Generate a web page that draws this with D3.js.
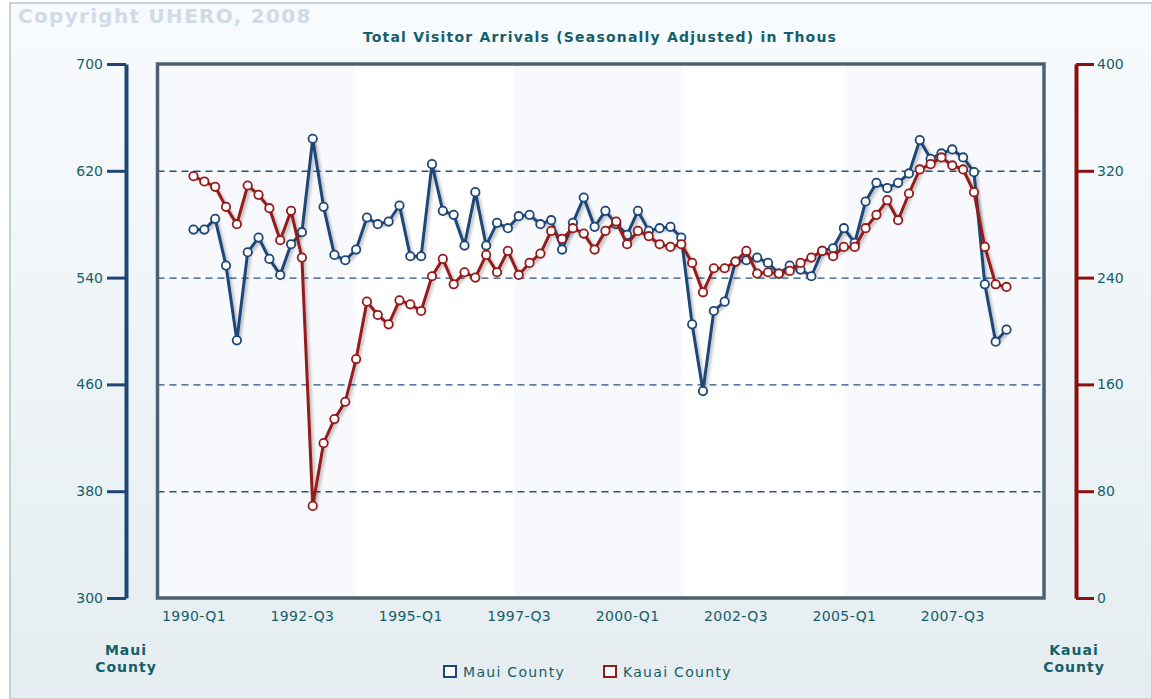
<!DOCTYPE html>
<html>
<head>
<meta charset="utf-8">
<script src="https://cdn.jsdelivr.net/npm/d3@7"></script>
<style>
  html, body { margin: 0; padding: 0; background: #fff; }
  svg { display: block; font-family: "DejaVu Sans", Verdana, sans-serif; }
</style>
</head>
<body>
<script>
/* ---------------- DATA ---------------- */
const START_YEAR = 1990;

// Maui County, thousands (left axis)
const MAUI = [
  576, 576, 584, 549, 493, 559, 570, 554, 542, 565,
  574, 644, 593, 557, 553, 561, 585, 580, 582, 594,
  556, 556, 625, 590, 587, 564, 604, 564, 581, 577,
  586, 587, 580, 583, 561, 581, 600, 578, 590, 580,
  572, 590, 575, 577, 578, 570, 505, 455, 515, 522,
  552, 553, 555, 551, 543, 549, 546, 541, 560, 562,
  577, 566, 597, 611, 607, 611, 618, 643, 629, 633,
  636, 630, 619, 535, 492, 501
];

// Kauai County, thousands (right axis)
const KAUAI = [
  316, 312, 308, 293, 280, 309, 302, 292, 268, 290,
  255,  69, 116, 134, 147, 179, 222, 212, 205, 223,
  220, 215, 241, 254, 235, 244, 240, 257, 244, 260,
  242, 251, 258, 275, 269, 277, 273, 261, 275, 282,
  265, 275, 271, 265, 263, 265, 251, 229, 247, 247,
  252, 260, 243, 244, 243, 245, 251, 255, 260, 256,
  263, 263, 277, 287, 298, 283, 303, 321, 325, 330,
  324, 321, 304, 263, 235, 233
];

const QUARTERS = MAUI.map((_, i) => `${START_YEAR + Math.floor(i / 4)}-Q${(i % 4) + 1}`);
const TICK_LABELS = ["1990-Q1", "1992-Q3", "1995-Q1", "1997-Q3", "2000-Q1", "2002-Q3", "2005-Q1", "2007-Q3"];
const LEFT_TICKS  = [300, 380, 460, 540, 620, 700];
const RIGHT_TICKS = [0, 80, 160, 240, 320, 400];
const GRID_VALUES = [380, 460, 540, 620];
const SERIES_NAMES = ["Maui County", "Kauai County"];

/* ---------------- LAYOUT ---------------- */
const W = 1152, H = 699;
const FRAME = { left: 157.5, right: 1044, top: 64, bottom: 598 };
const BLUE = "#1d4677", RED = "#951a1a", TEAL = "#135f6b";
const FONT = "DejaVu Sans, Verdana, sans-serif";

const svg = d3.select("body").append("svg").attr("width", W).attr("height", H);
const defs = svg.append("defs");

const bg = defs.append("linearGradient").attr("id", "bg").attr("x1", 0).attr("y1", 0).attr("x2", 0).attr("y2", 1);
bg.append("stop").attr("offset", "0%").attr("stop-color", "#f8fbfd");
bg.append("stop").attr("offset", "100%").attr("stop-color", "#e5edf0");

const shadow = defs.append("filter").attr("id", "shadow")
  .attr("x", "-5%").attr("y", "-5%").attr("width", "110%").attr("height", "110%");
shadow.append("feDropShadow").attr("dx", 2).attr("dy", 2).attr("stdDeviation", 1.6)
  .attr("flood-color", "#000").attr("flood-opacity", 0.28);

// outer panel
svg.append("rect").attr("x", 10).attr("y", 3).attr("width", W - 10).attr("height", H - 3)
  .attr("fill", "url(#bg)").attr("stroke", "#b9c4cb").attr("stroke-width", 1.5);

svg.append("text").attr("x", 18).attr("y", 23)
  .attr("font-size", 20).attr("font-weight", "bold").attr("fill", "#cfdbe7")
  .attr("letter-spacing", 1.3)
  .text("Copyright UHERO, 2008");

svg.append("text").attr("x", 600).attr("y", 42).attr("text-anchor", "middle")
  .attr("font-size", 14).attr("font-weight", "bold").attr("fill", TEAL)
  .attr("letter-spacing", 1.2)
  .text("Total Visitor Arrivals (Seasonally Adjusted) in Thous");

/* scales */
const x = d3.scaleLinear().domain([0, MAUI.length - 1]).range([193.5, 1006.5]);
const yL = d3.scaleLinear().domain([300, 700]).range([FRAME.bottom, FRAME.top]);
const yR = d3.scaleLinear().domain([0, 400]).range([FRAME.bottom, FRAME.top]);

/* plot area */
svg.append("rect")
  .attr("x", FRAME.left).attr("y", FRAME.top)
  .attr("width", FRAME.right - FRAME.left).attr("height", FRAME.bottom - FRAME.top)
  .attr("fill", "#ffffff");

// faint alternating bands
const BANDS = [[FRAME.left, 355], [515, 683], [845, FRAME.right]];
svg.append("g").selectAll("rect").data(BANDS).join("rect")
  .attr("x", d => d[0]).attr("y", FRAME.top)
  .attr("width", d => d[1] - d[0]).attr("height", FRAME.bottom - FRAME.top)
  .attr("fill", "#f7f9fc");

// dashed grid
svg.append("g").attr("class", "grid")
  .attr("transform", `translate(${FRAME.left},0)`)
  .call(d3.axisLeft(yL).tickValues(GRID_VALUES).tickSize(-(FRAME.right - FRAME.left)).tickFormat(""))
  .call(g => g.select(".domain").remove())
  .selectAll("line")
    .attr("stroke", "#23508a").attr("stroke-width", 1.4).attr("stroke-dasharray", "7,5");

// frame
svg.append("rect")
  .attr("x", FRAME.left).attr("y", FRAME.top)
  .attr("width", FRAME.right - FRAME.left).attr("height", FRAME.bottom - FRAME.top)
  .attr("fill", "none").attr("stroke", "#4b6273").attr("stroke-width", 3.5);

/* left axis */
const axL = svg.append("g").attr("transform", "translate(126,0)")
  .call(d3.axisLeft(yL).tickValues(LEFT_TICKS).tickSize(19).tickSizeOuter(0).tickPadding(4));
axL.select(".domain").attr("stroke", BLUE).attr("stroke-width", 4);
axL.selectAll(".tick line").attr("stroke", BLUE).attr("stroke-width", 3);
axL.selectAll(".tick text").attr("fill", TEAL).attr("font-size", 14).attr("font-family", FONT);

/* right axis */
const axR = svg.append("g").attr("transform", "translate(1076,0)")
  .call(d3.axisRight(yR).tickValues(RIGHT_TICKS).tickSize(18).tickSizeOuter(0).tickPadding(3));
axR.select(".domain").attr("stroke", "#8a1010").attr("stroke-width", 4);
axR.selectAll(".tick line").attr("stroke", "#8a1010").attr("stroke-width", 3);
axR.selectAll(".tick text").attr("fill", TEAL).attr("font-size", 14).attr("font-family", FONT);

/* bottom labels */
const xTicks = TICK_LABELS.map(l => QUARTERS.indexOf(l));
const axB = svg.append("g").attr("transform", `translate(0,${FRAME.bottom})`)
  .call(d3.axisBottom(x).tickValues(xTicks).tickSize(0).tickPadding(13).tickFormat(i => QUARTERS[i]));
axB.select(".domain").remove();
axB.selectAll(".tick text").attr("fill", TEAL).attr("font-size", 14).attr("font-family", FONT)
  .attr("letter-spacing", 0.4);

/* axis titles */
function stackTitle(cx, words) {
  const t = svg.append("text").attr("text-anchor", "middle")
    .attr("font-size", 14).attr("font-weight", "bold").attr("fill", TEAL).attr("letter-spacing", 1);
  words.forEach((w, i) => t.append("tspan").attr("x", cx).attr("y", 655 + i * 16.5).text(w));
}
stackTitle(126, ["Maui", "County"]);
stackTitle(1074, ["Kauai", "County"]);

/* series */
const series = [
  { name: SERIES_NAMES[0], values: MAUI, y: yL, color: BLUE },
  { name: SERIES_NAMES[1], values: KAUAI, y: yR, color: RED }
];

const line = s => d3.line().x((d, i) => x(i)).y(d => s.y(d))(s.values);

const sg = svg.selectAll("g.series").data(series).join("g").attr("class", "series");
sg.append("path")
  .attr("d", s => line(s))
  .attr("fill", "none").attr("stroke", s => s.color).attr("stroke-width", 3)
  .attr("stroke-linejoin", "round").attr("filter", "url(#shadow)");
sg.each(function (s) {
  d3.select(this).selectAll("circle").data(s.values).join("circle")
    .attr("cx", (d, i) => x(i)).attr("cy", d => s.y(d)).attr("r", 4.2)
    .attr("fill", "#fff").attr("stroke", s.color).attr("stroke-width", 1.8);
});

/* legend */
const LEG_X = [443, 603];
const leg = svg.selectAll("g.leg").data(series).join("g").attr("class", "leg")
  .attr("transform", (d, i) => `translate(${LEG_X[i]},665)`);
leg.append("rect").attr("x", 1).attr("y", 1).attr("width", 12).attr("height", 11)
  .attr("fill", "#fff").attr("stroke", d => d.color).attr("stroke-width", 2);
leg.append("text").attr("x", 20).attr("y", 12).attr("font-size", 14).attr("fill", TEAL)
  .attr("letter-spacing", 1.3)
  .text(d => d.name);
</script>
</body>
</html>
